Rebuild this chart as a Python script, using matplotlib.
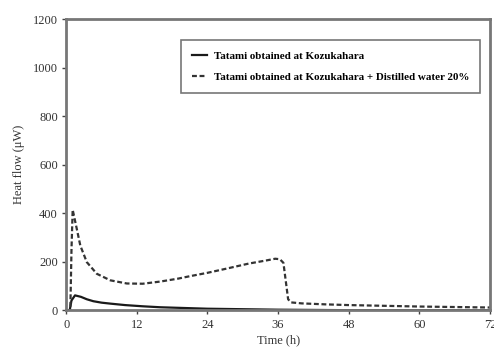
import numpy as np
import matplotlib.pyplot as plt

plt.rcParams['font.family'] = ['Liberation Serif', 'DejaVu Serif']

# time (h) and heat flow (uW)
t_dry = [0, 0.6, 0.9, 1.5, 2.5, 3.5, 4.6, 6, 7.5, 10, 13, 16, 20, 24, 30, 36, 42, 48, 60, 72]
q_dry = [0, 0, 40, 61, 55, 45, 37, 31, 27, 21, 16, 12, 9, 6, 4, 2, 1, 0, 0, 0]

t_wet = [0, 0.7, 0.9, 1.1, 1.4, 1.8, 2.4, 3.5, 5.2, 7.5, 10.3, 13, 16, 19, 21, 24, 27, 31, 34,
         35.5, 36.3, 36.9, 37.3, 37.7, 38.2, 40, 44, 48, 54, 60, 66, 72]
q_wet = [0, 0, 250, 414, 380, 335, 266, 198, 150, 123, 110, 109, 118, 130, 140, 154, 170, 192, 205,
         212, 210, 195, 120, 45, 32, 28, 24, 21, 18, 15, 13, 11]

fig = plt.figure(figsize=(4.94, 3.59), dpi=100)
ax = fig.add_axes([0.134, 0.136, 0.858, 0.811])

ax.plot(t_dry, q_dry, color='#1a1a1a', lw=1.6, label='Tatami obtained at Kozukahara')
ax.plot(t_wet, q_wet, color='#333333', lw=1.6, ls=(0, (2.2, 1.2)),
        label='Tatami obtained at Kozukahara + Distilled water 20%')

ax.set_xlim(0, 72)
ax.set_ylim(0, 1200)
ax.set_xticks(np.arange(0, 73, 12))
ax.set_yticks(np.arange(0, 1201, 200))
ax.tick_params(direction='out', length=3, width=1, labelsize=9, colors='#444444',
               labelcolor='#333333', pad=3)
for s in ax.spines.values():
    s.set_color('#777777')
    s.set_linewidth(2)

ax.set_xlabel('Time (h)', fontsize=9, color='#333333', labelpad=3)
ax.set_ylabel('Heat flow (\u03bcW)', fontsize=9, color='#333333', labelpad=6)

leg = ax.legend(loc='upper right', bbox_to_anchor=(0.976, 0.928),
                prop={'weight': 'bold', 'size': 7.9}, frameon=True, fancybox=False,
                handlelength=1.4, handletextpad=0.6, borderpad=1.0, labelspacing=1.05,
                borderaxespad=0)
leg.get_frame().set_edgecolor('#555555')
leg.get_frame().set_linewidth(1.2)

fig.savefig('out.png', dpi=100)
